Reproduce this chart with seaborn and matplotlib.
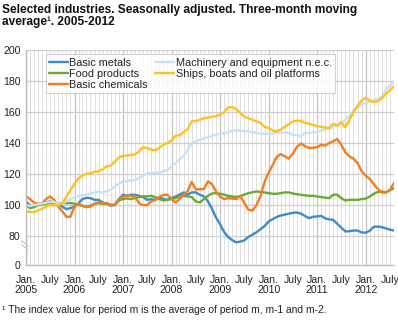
import matplotlib
matplotlib.use("Agg")
import matplotlib.pyplot as plt
import seaborn as sns
import pandas as pd

months = pd.date_range("2005-01-01", periods=92, freq="MS")

basic_metals = [
    102.4, 99.6, 99.0, 100.2, 100.9, 101.7, 102.4, 101.7, 100.9, 99.0, 97.4, 98.0,
    99.0, 101.3, 103.9, 104.7, 104.5, 103.4, 103.4, 101.7, 100.9, 99.6, 100.2, 103.9,
    106.7, 106.0, 106.7, 106.7, 106.0, 105.2, 103.4, 103.9, 103.4, 105.2, 103.9, 103.4,
    104.5, 105.6, 106.7, 108.2, 106.7, 108.2, 108.2, 106.7, 105.6, 102.5, 97.5, 92.0,
    87.5, 82.5, 79.5, 77.5, 76.0, 76.5, 77.2, 79.5, 81.0, 82.5, 84.5, 86.5,
    89.5, 91.0, 92.3, 93.3, 93.8, 94.5, 95.0, 95.3, 94.5, 93.0, 91.6, 92.5,
    92.7, 93.1, 91.5, 90.8, 90.5, 88.0, 85.5, 83.0, 83.2, 83.6, 83.6, 82.4,
    82.2, 83.5, 86.0, 86.2, 85.8, 85.0, 84.2, 83.6]

food_products = [
    100.0, 98.0, 98.7, 100.0, 100.4, 100.9, 101.3, 101.7, 100.9, 101.3, 101.3, 101.3,
    100.9, 100.2, 99.6, 99.0, 99.6, 100.9, 101.3, 100.9, 100.9, 100.0, 100.2, 103.0,
    103.9, 104.3, 103.9, 104.5, 105.2, 105.6, 105.6, 106.0, 105.2, 103.9, 103.0, 103.4,
    103.9, 104.5, 105.6, 106.0, 105.6, 105.2, 102.4, 101.7, 104.0, 106.0, 107.5, 107.7,
    107.3, 106.7, 106.0, 105.6, 105.2, 105.8, 106.7, 107.7, 108.3, 108.8, 108.5, 108.2,
    107.7, 107.3, 107.3, 107.7, 108.2, 108.2, 107.5, 107.0, 106.7, 106.3, 106.0, 106.0,
    105.6, 105.2, 104.8, 104.5, 106.7, 106.7, 104.5, 103.0, 103.4, 103.4, 103.4, 103.9,
    104.2, 105.5, 107.3, 108.5, 108.8, 108.2, 109.5, 111.0]

basic_chemicals = [
    105.6, 103.9, 101.7, 100.9, 100.9, 103.9, 105.6, 103.4, 99.0, 96.0, 92.5, 92.5,
    99.0, 101.0, 99.6, 98.7, 99.0, 101.0, 101.7, 101.3, 101.3, 100.2, 100.2, 103.4,
    105.6, 106.0, 106.0, 105.6, 101.3, 100.0, 100.0, 102.4, 103.4, 105.2, 106.7, 106.7,
    103.9, 101.7, 103.9, 106.7, 109.0, 115.0, 110.0, 110.3, 110.3, 115.3, 113.5, 108.8,
    105.5, 103.9, 104.5, 104.2, 103.9, 106.0, 101.5, 97.0, 96.5, 100.0, 106.0, 115.0,
    121.0, 126.0, 131.0, 132.9, 131.5, 130.0, 133.0, 137.5, 139.8, 138.0, 136.8, 137.0,
    137.4, 138.9, 138.3, 140.0, 141.1, 142.6, 139.0, 134.0, 131.4, 130.0, 127.0, 122.0,
    119.0, 116.8, 113.5, 110.5, 108.0, 108.2, 109.9, 114.2]

machinery = [
    100.0, 99.5, 100.0, 100.5, 101.0, 101.5, 102.0, 102.0, 101.0, 101.0, 102.5, 104.0,
    105.0, 106.0, 106.5, 106.7, 107.5, 108.2, 108.5, 108.2, 109.0, 110.0, 112.0, 113.8,
    115.3, 115.5, 116.0, 116.0, 117.5, 119.0, 120.5, 120.6, 120.6, 121.0, 122.0, 122.4,
    125.0, 127.0, 129.5, 131.4, 135.7, 140.0, 141.0, 142.3, 143.0, 143.7, 144.5, 145.4,
    146.0, 146.5, 147.0, 148.0, 148.2, 148.0, 147.8, 147.5, 147.0, 146.5, 146.2, 146.0,
    146.0, 146.2, 146.5, 146.7, 146.9, 146.5, 145.4, 145.0, 144.5, 146.5, 146.5, 146.9,
    147.0, 148.0, 149.0, 149.5, 150.3, 151.5, 153.5, 155.0, 158.0, 161.0, 163.0, 165.0,
    165.8, 166.5, 167.5, 168.5, 170.0, 174.4, 177.0, 179.8]

ships = [
    96.0, 95.5, 95.5, 96.5, 97.6, 99.0, 100.0, 100.0, 100.0, 101.0, 105.5, 109.5,
    113.8, 117.4, 119.0, 120.2, 120.6, 121.5, 121.7, 123.2, 125.0, 125.5, 128.0, 130.7,
    131.8, 132.0, 132.3, 132.7, 134.6, 137.4, 136.8, 135.7, 135.3, 137.0, 139.0, 140.0,
    141.7, 144.7, 145.0, 147.0, 149.0, 154.0, 154.2, 155.0, 156.0, 156.5, 157.0, 157.2,
    158.5, 160.0, 163.0, 163.2, 162.0, 159.5, 157.0, 156.0, 155.0, 154.0, 153.0, 150.5,
    149.7, 148.0, 147.5, 148.6, 150.5, 152.0, 154.0, 154.5, 154.3, 153.0, 152.5, 151.7,
    151.0, 150.5, 150.0, 149.7, 152.5, 151.2, 153.3, 150.3, 155.0, 160.0, 164.0, 167.5,
    169.0, 167.5, 166.5, 167.0, 169.0, 171.5, 174.0, 176.6]

series_names = ["Basic metals", "Food products", "Basic chemicals",
                "Machinery and equipment n.e.c.", "Ships, boats and oil platforms"]
series_values = [basic_metals, food_products, basic_chemicals, machinery, ships]
colors = ["#3a8ccb", "#6aaa2e", "#f47d20", "#c9e2f4", "#fdc221"]

y_tick_values = [0, 80, 100, 120, 140, 160, 180, 200]
x_tick_years = list(range(2005, 2013))

frames = []
for name, vals in zip(series_names, series_values):
    frames.append(pd.DataFrame({"month": months, "value": vals, "series": name}))
df = pd.concat(frames, ignore_index=True)

sns.set_theme(style="white")
plt.rcParams["font.family"] = ["Liberation Sans", "DejaVu Sans"]

fig = plt.figure(figsize=(3.98, 3.23), dpi=100)
W, H = 398, 323
left, right, top, bottom = 26, 394, 50, 265
ax = fig.add_axes([left / W, 1 - bottom / H, (right - left) / W, (bottom - top) / H])

# broken axis: 0 is placed just below 80
zero_pos = 61.4
ax.set_ylim(zero_pos, 200)
ypos = [zero_pos] + y_tick_values[1:]

ax.set_xlim(months[0], months[-1])
for m in months:
    is_jan = m.month == 1
    ax.axvline(m, color="#c4c4c4" if is_jan else "#e0e0e0",
               lw=0.9 if is_jan else 0.7, zorder=0)
for yp in ypos[1:]:
    ax.axhline(yp, color="#cfcfcf", lw=0.9, zorder=0)

sns.lineplot(data=df, x="month", y="value", hue="series", hue_order=series_names,
             palette=colors, linewidth=1.7, ax=ax, legend=True)

ax.set_yticks(ypos)
ax.set_yticklabels([str(v) for v in y_tick_values])
xt, xl = [], []
for yr in x_tick_years:
    xt.append(pd.Timestamp(f"{yr}-01-01")); xl.append(f"Jan.\n{yr}")
    xt.append(pd.Timestamp(f"{yr}-07-01")); xl.append("July")
ax.set_xticks(xt)
ax.set_xticklabels(xl, va="top", ha="center", linespacing=1.05)
ax.tick_params(axis="both", labelsize=7.6, length=0, colors="#222222")
ax.tick_params(axis="y", pad=4)
ax.tick_params(axis="x", pad=7)
ax.set_xlabel("")
ax.set_ylabel("")

for s in ["top", "right"]:
    ax.spines[s].set_visible(False)
for s in ["left", "bottom"]:
    ax.spines[s].set_color("#bdbdbd")
    ax.spines[s].set_linewidth(1.0)

# break marks on the y axis
for dy in (0.0, 0.018):
    ax.plot([-0.012, 0.006], [0.095 + dy, 0.07 + dy], transform=ax.transAxes,
            color="#c8c8c8", lw=0.9, clip_on=False, zorder=5)

leg = ax.legend(ncol=2, loc="upper left", bbox_to_anchor=(0.053, 0.98),
                fontsize=7.8, frameon=True, fancybox=False, borderpad=0.3,
                handlelength=1.75, handletextpad=0.15, columnspacing=0.7,
                labelspacing=0.12, borderaxespad=0)
leg.get_frame().set_edgecolor("#c8c8c8")
leg.get_frame().set_linewidth(0.8)
for t in leg.get_texts():
    t.set_color("#222222")

fig.text(2 / W, 1 - 4 / H,
         "Selected industries. Seasonally adjusted. Three-month moving\naverage\u00b9. 2005-2012",
         fontsize=8.6, fontweight="bold", va="top", ha="left", color="#111111",
         linespacing=0.95)
fig.text(2 / W, 1 - 310 / H,
         "\u00b9 The index value for period m is the average of period m, m-1 and m-2.",
         fontsize=7.4, va="center", ha="left", color="#222222")

fig.savefig("out.png", dpi=100)
